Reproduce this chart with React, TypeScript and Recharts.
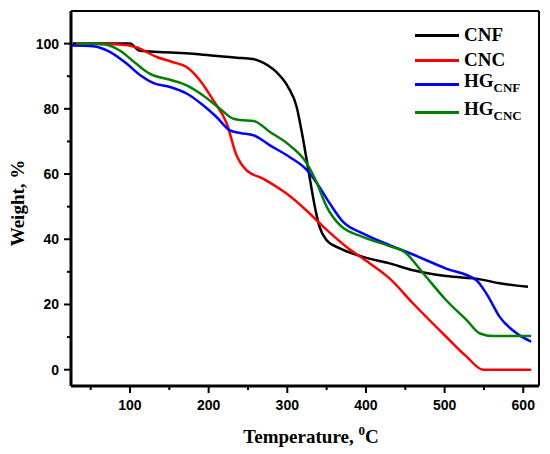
import React from "react";
import { LineChart, Line, XAxis, YAxis, ReferenceLine, Legend } from "recharts";

// TGA curves (temperature in °C, weight in %)
const cnfTemp = [27, 60, 100, 112, 138, 180, 214, 236, 256, 265, 276, 286, 301, 312, 318, 324, 329, 335, 341, 350, 367, 396, 430, 460, 502, 545, 570, 606];
const cnfWeight = [100, 100, 100, 97.9, 97.4, 96.9, 96.1, 95.7, 95.3, 94.6, 93.2, 91.3, 86.7, 80.5, 73.4, 65.2, 58.1, 50, 43.8, 39.7, 37.2, 34.6, 32.6, 30.5, 28.7, 27.7, 26.5, 25.4];

const cncTemp = [32, 87, 108, 134, 155, 172, 189, 206, 223, 235, 248, 269, 299, 324, 346, 375, 405, 430, 460, 502, 528, 549, 610];
const cncWeight = [100, 99.7, 98.9, 95.9, 94.3, 92.8, 88.7, 82.6, 75.5, 66, 61.2, 58.6, 54, 48.9, 43.8, 37.7, 32.6, 28, 20.3, 10.1, 4, 0, 0];

const hgCnfTemp = [26, 53, 75, 96, 113, 130, 151, 172, 193, 210, 227, 240, 257, 278, 303, 325, 341, 354, 371, 396, 430, 452, 502, 540, 553, 570, 595, 610];
const hgCnfWeight = [99.4, 99.2, 97.4, 93.8, 90.3, 87.9, 86.7, 84.7, 81.1, 77.5, 73.4, 72.6, 71.9, 68.8, 65.2, 61.2, 56, 51, 45.3, 41.8, 38.2, 36.1, 31, 27.5, 23.4, 16.2, 10.6, 8.6];

const hgCncTemp = [32, 66, 87, 108, 125, 151, 172, 193, 214, 231, 240, 257, 278, 303, 325, 337, 350, 367, 396, 430, 449, 473, 502, 528, 545, 562, 610];
const hgCncWeight = [100, 99.8, 97.9, 93.8, 90.8, 88.9, 87.2, 84.1, 80.1, 77, 76.6, 76.3, 72.9, 68.8, 63.2, 57.6, 50, 44.3, 40.7, 37.9, 36.1, 29.5, 21.3, 15.2, 11.1, 10.3, 10.3];

const xTicks = [50, 100, 150, 200, 250, 300, 350, 400, 450, 500, 550, 600];
const yTicks = [0, 10, 20, 30, 40, 50, 60, 70, 80, 90, 100];

const toPoints = (t: number[], w: number[]) => t.map((v, i) => ({ t: v, w: w[i] }));

const series = [
  { name: "CNF", main: "CNF", sub: "", color: "#000000", data: toPoints(cnfTemp, cnfWeight) },
  { name: "CNC", main: "CNC", sub: "", color: "#ff0000", data: toPoints(cncTemp, cncWeight) },
  { name: "HG_CNF", main: "HG", sub: "CNF", color: "#0000ff", data: toPoints(hgCnfTemp, hgCnfWeight) },
  { name: "HG_CNC", main: "HG", sub: "CNC", color: "#008000", data: toPoints(hgCncTemp, hgCncWeight) },
];

const tickFont = { fontFamily: "Arial, 'Liberation Sans', sans-serif", fontWeight: 700, fontSize: 14 };
const titleFont = "'Times New Roman', 'Liberation Serif', serif";

function XTick({ x, y, payload }: any) {
  const major = payload.value % 100 === 0;
  const axisY = y - 14;
  return (
    <g>
      <line x1={x} x2={x} y1={axisY} y2={axisY + (major ? 7 : 4)} stroke="#000" strokeWidth={2} />
      {major && (
        <text x={x} y={y} dy="0.71em" textAnchor="middle" fill="#000" {...tickFont}>
          {payload.value}
        </text>
      )}
    </g>
  );
}

function YTick({ x, y, payload }: any) {
  const major = payload.value % 20 === 0;
  const axisX = x + 12;
  return (
    <g>
      <line x1={axisX} x2={axisX - (major ? 7 : 4)} y1={y} y2={y} stroke="#000" strokeWidth={2} />
      {major && (
        <text x={x} y={y} dy="0.355em" textAnchor="end" fill="#000" {...tickFont}>
          {payload.value}
        </text>
      )}
    </g>
  );
}

function LegendBox() {
  const rows = [35, 60, 84, 112];
  return (
    <div style={{ position: "relative", width: 120, height: 120 }}>
      {series.map((s, i) => (
        <div
          key={s.name}
          style={{ position: "absolute", left: 0, top: rows[i] - 11, height: 22, display: "flex", alignItems: "center" }}
        >
          <div style={{ width: 44, height: 3, background: s.color }} />
          <span style={{ marginLeft: 5, fontFamily: titleFont, fontWeight: 700, fontSize: 19, color: "#000", lineHeight: "22px", whiteSpace: "nowrap" }}>
            {s.main}
            {s.sub && <sub style={{ fontSize: 13, verticalAlign: "-5px" }}>{s.sub}</sub>}
          </span>
        </div>
      ))}
    </div>
  );
}

function XTitle() {
  return (
    <text x={311} y={443} textAnchor="middle" fill="#000" fontFamily={titleFont} fontWeight={700} fontSize={19}>
      Temperature,{" "}
      <tspan fontSize={13} dy={-8}>0</tspan>
      <tspan dy={8}>C</tspan>
    </text>
  );
}

function YTitle() {
  return (
    <text
      x={24}
      y={203}
      transform="rotate(-90, 24, 203)"
      textAnchor="middle"
      fill="#000"
      fontFamily={titleFont}
      fontWeight={700}
      fontSize={19}
    >
      Weight, %
    </text>
  );
}

export default function App() {
  return (
    <div style={{ position: "absolute", left: 0, top: 0, width: 550, height: 454, background: "#fff" }}>
      <LineChart width={550} height={454} margin={{ top: 11, right: 11, bottom: 38, left: 21 }}>
        <XAxis
          type="number"
          dataKey="t"
          domain={[25, 620]}
          ticks={xTicks}
          allowDataOverflow
          height={30}
          tickSize={7}
          tickMargin={7}
          tickLine={false}
          tick={<XTick />}
          axisLine={{ stroke: "#000", strokeWidth: 3 }}
          label={<XTitle />}
        />
        <YAxis
          type="number"
          dataKey="w"
          domain={[-5, 110]}
          ticks={yTicks}
          allowDataOverflow
          width={50}
          tickSize={6}
          tickMargin={6}
          tickLine={false}
          tick={<YTick />}
          axisLine={{ stroke: "#000", strokeWidth: 3 }}
          label={<YTitle />}
        />
        <ReferenceLine y={110} stroke="#000" strokeWidth={2} />
        <ReferenceLine x={620} stroke="#000" strokeWidth={2} />
        {series.map((s) => (
          <Line
            key={s.name}
            data={s.data}
            dataKey="w"
            name={s.name}
            type="monotone"
            stroke={s.color}
            strokeWidth={2.5}
            dot={false}
            activeDot={false}
            isAnimationActive={false}
          />
        ))}
        <Legend
          layout="vertical"
          align="center"
          verticalAlign="middle"
          content={<LegendBox />}
          wrapperStyle={{ position: "absolute", left: 415, top: 0, width: 120, height: 120 }}
        />
      </LineChart>
    </div>
  );
}
